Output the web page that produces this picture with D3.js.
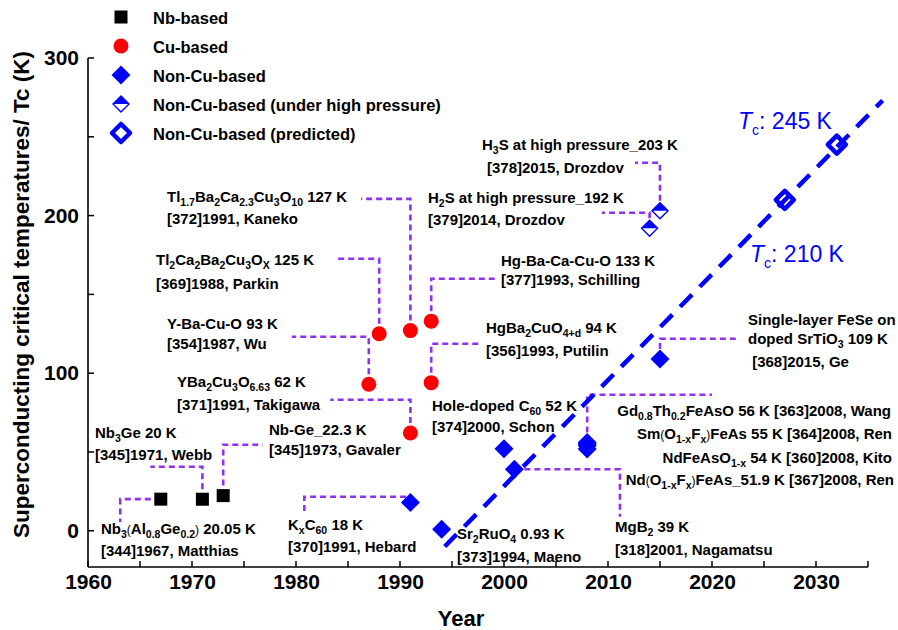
<!DOCTYPE html>
<html>
<head>
<meta charset="utf-8">
<script src="https://cdn.jsdelivr.net/npm/d3@7"></script>
<style>
  body { margin: 0; background: #fff; }
  svg { display: block; }
</style>
</head>
<body>
<svg id="chart" width="898" height="630"></svg>
<script>
// ---- data: discovery year and critical temperature (K) ----
const nbBased = [
  { year: 1967, tc: 20.05 },
  { year: 1971, tc: 20 },
  { year: 1973, tc: 22.3 }
];
const cuBased = [
  { year: 1987, tc: 93 },
  { year: 1988, tc: 125 },
  { year: 1991, tc: 127 },
  { year: 1993, tc: 133 },
  { year: 1991, tc: 62 },
  { year: 1993, tc: 94 }
];
const nonCuBased = [
  { year: 1991, tc: 18 },
  { year: 1994, tc: 0.93 },
  { year: 2000, tc: 52 },
  { year: 2001, tc: 39 },
  { year: 2008, tc: 56 },
  { year: 2008, tc: 55 },
  { year: 2008, tc: 54 },
  { year: 2008, tc: 51.9 },
  { year: 2015, tc: 109 }
];
const nonCuHighPressure = [
  { year: 2014, tc: 192 },
  { year: 2015, tc: 203 }
];
const nonCuPredicted = [
  { year: 2027, tc: 210 },
  { year: 2032, tc: 245 }
];
// extrapolated trend of the non-Cu-based family
const trendLine = [
  { year: 1994.3, tc: -10 },
  { year: 2036.4, tc: 273 }
];

const xTickValues = [1960, 1970, 1980, 1990, 2000, 2010, 2020, 2030];
const xMinorTicks = [1965, 1975, 1985, 1995, 2005, 2015, 2025, 2035];
const yTickValues = [0, 100, 200, 300];
const yMinorTicks = [50, 150, 250];

const legendItems = [
  { kind: "square", label: "Nb-based" },
  { kind: "circle", label: "Cu-based" },
  { kind: "diamond", label: "Non-Cu-based" },
  { kind: "half", label: "Non-Cu-based (under high pressure)" },
  { kind: "hollow", label: "Non-Cu-based (predicted)" }
];

// Callout text (markup: _{..} subscript, !{..} small plain glyphs),
// text placement in px, leader path in data units (year, K).
const callouts = [
  { lines: ["Nb_{3}!{(}Al_{0.8}Ge_{0.2}!{)} 20.05 K", "[344]1967, Matthias"], x: 101, y: [534, 556],
    path: [[1967, 20.05], [1963.1, 20.05], [1963.1, 5.6]] },
  { lines: ["Nb_{3}Ge 20 K", "[345]1971, Webb"], x: 95, y: [438, 460],
    path: [[1971, 20], [1971, 40.6], [1966.0, 40.6]] },
  { lines: ["Nb-Ge_22.3 K", "[345]1973, Gavaler"], x: 269, y: [435, 455],
    path: [[1973, 22.3], [1973, 54.6], [1976.8, 54.6]] },
  { lines: ["YBa_{2}Cu_{3}O_{6.63} 62 K", "[371]1991, Takigawa"], x: 177, y: [387, 410],
    path: [[1991, 62], [1991, 83.1], [1983.3, 83.1]] },
  { lines: ["Y-Ba-Cu-O 93 K", "[354]1987, Wu"], x: 167, y: [329, 349],
    path: [[1987, 93], [1987, 123.1], [1979.6, 123.1]] },
  { lines: ["Tl_{2}Ca_{2}Ba_{2}Cu_{3}O_{X} 125 K", "[369]1988, Parkin"], x: 156, y: [265, 289],
    path: [[1988, 125], [1988, 172.6], [1984.0, 172.6]] },
  { lines: ["Tl_{1.7}Ba_{2}Ca_{2.3}Cu_{3}O_{10} 127 K", "[372]1991, Kaneko"], x: 167, y: [202, 224],
    path: [[1991, 127], [1991, 210.6], [1986.25, 210.6]] },
  { lines: ["H_{3}S at high pressure_203 K"], x: 482, y: [150] },
  { lines: ["[378]2015, Drozdov"], x: 487, y: [173],
    path: [[2015, 203], [2015, 233.5], [2012.6, 233.5]] },
  { lines: ["H_{2}S at high pressure_192 K", "[379]2014, Drozdov"], x: 428, y: [203, 225],
    path: [[2014, 192], [2014, 201.8], [2009.4, 201.8]] },
  { lines: ["Hg-Ba-Ca-Cu-O 133 K", "[377]1993, Schilling"], x: 501, y: [266, 285],
    path: [[1993, 133], [1993, 159.9], [1999.1, 159.9]] },
  { lines: ["HgBa_{2}CuO_{4+d} 94 K", "[356]1993, Putilin"], x: 486, y: [333, 356],
    path: [[1993, 94], [1993, 118.7], [1997.7, 118.7]] },
  { lines: ["Single-layer FeSe on", "doped SrTiO_{3} 109 K", " [368]2015, Ge"], x: 748, y: [325, 344, 367],
    path: [[2015, 109], [2015, 121.8], [2022.6, 121.8]] },
  { lines: ["Hole-doped C_{60} 52 K", "[374]2000, Schon"], x: 432, y: [411, 432] },
  { lines: ["Sr_{2}RuO_{4} 0.93 K", "[373]1994, Maeno"], x: 457, y: [539, 562] },
  { lines: ["Gd_{0.8}Th_{0.2}FeAsO 56 K [363]2008, Wang",
            "Sm!{(}O_{1-x}F_{x}!{)}FeAs 55 K [364]2008, Ren",
            "NdFeAsO_{1-x} 54 K [360]2008, Kito",
            "Nd!{(}O_{1-x}F_{x}!{)}FeAs_51.9 K [367]2008, Ren"],
    x: [891, 892, 892, 894], y: [416, 439, 463, 485], anchor: "end",
    path: [[2008, 56], [2008, 86.3], [2020.0, 86.3]] },
  { lines: ["MgB_{2} 39 K", "[318]2001, Nagamatsu"], x: 615, y: [532, 555],
    path: [[2001, 39], [2011.15, 39], [2011.15, 8.9]] },
  { lines: ["K_{x}C_{60} 18 K", "[370]1991, Hebard"], x: 288, y: [530, 552],
    path: [[1991, 18], [1991, 21.6], [1980.8, 21.6], [1980.8, 10.8]] }
];

const trendLabels = [
  { value: "245 K", x: 738, y: 129 },
  { value: "210 K", x: 750, y: 262 }
];

// ---- layout ----
const svg = d3.select("#chart");
const FONT = "'Liberation Sans', Arial, Helvetica, sans-serif";
const BLUE = "#0000ff";
const VIOLET = "#9030f0";

const x = d3.scaleLinear().domain([1960, 2035]).range([88, 868]);
const y = d3.scaleLinear().domain([-23, 300]).range([567, 58]);

// rich text writer for chemical formulas
function writeRich(textSel, str, size) {
  const parts = str.split(/(_\{[^}]*\}|!\{[^}]*\})/g).filter(s => s.length);
  let shift = 0;
  parts.forEach(p => {
    let txt = p, target = 0, fs = size, fw = null;
    if (p.startsWith("_{")) { txt = p.slice(2, -1); target = size * 0.28; fs = size * 0.7; }
    else if (p.startsWith("!{")) { txt = p.slice(2, -1); target = 0; fs = size * 0.8; fw = "normal"; }
    const t = textSel.append("tspan").text(txt).attr("font-size", fs);
    if (fw) t.attr("font-weight", fw);
    if (target !== shift) { t.attr("dy", target - shift); shift = target; }
  });
}

// ---- axes ----
const gx = svg.append("g").attr("transform", `translate(0,${y.range()[0]})`);
gx.call(d3.axisBottom(x).tickValues(xTickValues).tickFormat(d3.format("d")).tickSize(0).tickPadding(7));
gx.selectAll(".tick line").remove();
gx.selectAll("text").attr("font-family", FONT).attr("font-weight", "bold")
  .attr("font-size", 21).attr("fill", "#000");
gx.select(".domain").attr("d", `M${x.range()[0]},0H${x.range()[1]}`).attr("stroke", "#000").attr("stroke-width", 1.6);
gx.selectAll(".itick").data([...xTickValues, ...xMinorTicks]).join("line")
  .attr("class", "itick")
  .attr("x1", d => x(d)).attr("x2", d => x(d)).attr("y1", 0).attr("y2", -6)
  .attr("stroke", "#000").attr("stroke-width", 1.5);

const gy = svg.append("g").attr("transform", `translate(${x.range()[0]},0)`);
gy.call(d3.axisLeft(y).tickValues(yTickValues).tickFormat(d3.format("d")).tickSize(0).tickPadding(9));
gy.selectAll(".tick line").remove();
gy.selectAll("text").attr("font-family", FONT).attr("font-weight", "bold")
  .attr("font-size", 21).attr("fill", "#000");
gy.select(".domain").attr("d", `M0,${y.range()[0]}V${y.range()[1]}`).attr("stroke", "#000").attr("stroke-width", 1.6);
gy.selectAll(".itick").data([...yTickValues, ...yMinorTicks]).join("line")
  .attr("class", "itick")
  .attr("y1", d => y(d)).attr("y2", d => y(d)).attr("x1", 0).attr("x2", 6)
  .attr("stroke", "#000").attr("stroke-width", 1.5);

svg.append("text")
  .attr("transform", `translate(29,${(y.range()[0] + y.range()[1]) / 2 - 18}) rotate(-90)`)
  .attr("text-anchor", "middle")
  .attr("font-family", FONT).attr("font-weight", "bold").attr("font-size", 22.5)
  .text("Superconducting critical temperatures/ Tc (K)");

svg.append("text")
  .attr("x", 461).attr("y", 626)
  .attr("text-anchor", "middle")
  .attr("font-family", FONT).attr("font-weight", "bold").attr("font-size", 22)
  .text("Year");

// ---- marker shapes ----
const diamondPath = h => `M0,${-h}L${h},0L0,${h}L${-h},0Z`;
function drawMarker(g, kind) {
  if (kind === "square") {
    g.append("rect").attr("x", -6.5).attr("y", -6.5).attr("width", 13).attr("height", 13).attr("fill", "#000");
  } else if (kind === "circle") {
    g.append("circle").attr("r", 7.5).attr("fill", "#ff0000");
  } else if (kind === "diamond") {
    g.append("path").attr("d", diamondPath(9.5)).attr("fill", BLUE);
  } else if (kind === "half") {
    g.append("path").attr("d", diamondPath(8)).attr("fill", "#fff").attr("stroke", BLUE).attr("stroke-width", 1.4);
    g.append("path").attr("d", "M0,-8L8,0L-8,0Z").attr("fill", BLUE);
  } else if (kind === "hollow") {
    g.append("path").attr("d", diamondPath(9)).attr("fill", "#fff").attr("stroke", BLUE).attr("stroke-width", 4.5)
      .attr("stroke-linejoin", "round");
  }
}

// ---- leader lines ----
const leader = d3.line().x(d => x(d[0])).y(d => y(d[1]));
svg.append("g").selectAll("path")
  .data(callouts.filter(c => c.path))
  .join("path")
  .attr("d", c => leader(c.path))
  .attr("fill", "none").attr("stroke", VIOLET).attr("stroke-width", 2.6)
  .attr("stroke-dasharray", "6,4");

// ---- data markers ----
const series = [
  { data: nbBased, kind: "square" },
  { data: cuBased, kind: "circle" },
  { data: nonCuBased, kind: "diamond" },
  { data: nonCuHighPressure, kind: "half" },
  { data: nonCuPredicted, kind: "hollow" }
];
series.forEach(s => {
  svg.append("g").selectAll("g")
    .data(s.data).join("g")
    .attr("transform", d => `translate(${x(d.year)},${y(d.tc)})`)
    .each(function () { drawMarker(d3.select(this), s.kind); });
});

// ---- trend line (drawn over the markers) ----
svg.append("path")
  .datum(trendLine)
  .attr("d", d3.line().x(d => x(d.year)).y(d => y(d.tc)))
  .attr("fill", "none").attr("stroke", BLUE).attr("stroke-width", 4.5)
  .attr("stroke-dasharray", "17,11");

// ---- callout text ----
const labelG = svg.append("g")
  .attr("font-family", FONT).attr("font-weight", "bold").attr("fill", "#000");
callouts.forEach(c => {
  c.lines.forEach((line, i) => {
    const t = labelG.append("text")
      .attr("x", Array.isArray(c.x) ? c.x[i] : c.x)
      .attr("y", c.y[i])
      .attr("text-anchor", c.anchor || "start")
      .attr("font-size", 15)
      .attr("xml:space", "preserve");
    writeRich(t, line, 15);
  });
});

// ---- Tc labels on the trend ----
trendLabels.forEach(l => {
  const t = svg.append("text").attr("x", l.x).attr("y", l.y)
    .attr("font-family", FONT).attr("font-size", 23).attr("fill", BLUE);
  t.append("tspan").attr("font-style", "italic").text("T");
  t.append("tspan").attr("font-size", 14).attr("dy", 6).text("c");
  t.append("tspan").attr("dy", -6).text(": " + l.value);
});

// ---- legend ----
const legend = svg.append("g");
legendItems.forEach((item, i) => {
  const row = legend.append("g").attr("transform", `translate(121,${17 + i * 29})`);
  drawMarker(row, item.kind);
  row.append("text").attr("x", 32).attr("y", 7)
    .attr("font-family", FONT).attr("font-weight", "bold").attr("font-size", 16.5)
    .text(item.label);
});
</script>
</body>
</html>
